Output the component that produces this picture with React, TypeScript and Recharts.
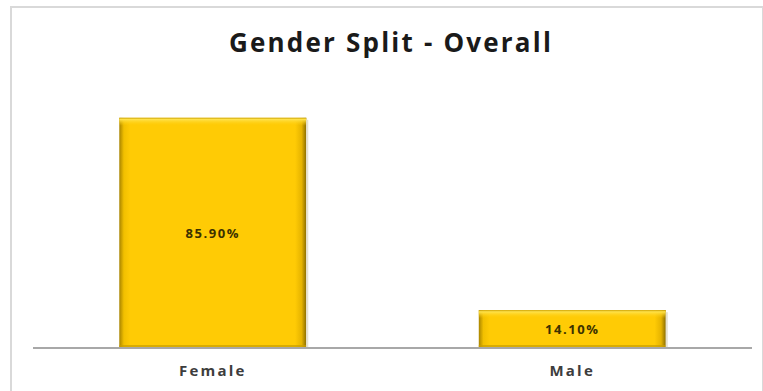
import React from 'react';
import { BarChart, Bar, XAxis, YAxis, LabelList } from 'recharts';

const categories = ['Female', 'Male'];
const shares = [85.9, 14.1];
const chartTitle = 'Gender Split - Overall';

const chartData = categories.map((name, i) => ({ name, share: shares[i] }));

const font = '"Open Sans", "Liberation Sans", sans-serif';

// bevelled gold bar, roughly like the Excel preset
const GoldBar = (props: any) => {
  const { x, y, width, height } = props;
  if (!height || height <= 0) return null;
  return (
    <g>
      <rect x={x} y={y} width={width} height={height} fill="url(#goldFill)" />
      <rect x={x} y={y} width={width} height={Math.min(8, height)} fill="url(#goldTop)" />
      <rect x={x} y={y + height - 3} width={width} height={3} fill="#c99e00" opacity={0.7} />
      <line x1={x + width + 1} y1={y + 2} x2={x + width + 1} y2={y + height} stroke="#e6e2cf" strokeWidth={2} />
    </g>
  );
};

const CategoryTick = (props: any) => {
  const { x, y, payload } = props;
  return (
    <text x={x} y={y + 20} textAnchor="middle" fontFamily={font} fontSize={15} fontWeight={700}
      letterSpacing={2.2} fill="#3d3d3d">
      {payload.value}
    </text>
  );
};

const App: React.FC = () => {
  return (
    <div style={{ position: 'absolute', left: 0, top: 0, width: 763, height: 391, background: '#fff' }}>
      <div style={{
        position: 'absolute', left: 10, top: 6, width: 754, height: 392,
        border: '2px solid #d9d9d9', boxSizing: 'border-box',
      }} />
      <div style={{
        position: 'absolute', left: 0, top: 29, width: 782, textAlign: 'center',
        fontFamily: font, fontSize: 26, fontWeight: 700, lineHeight: '26px', color: '#1a1a1a',
        letterSpacing: 2.2,
      }}>
        {chartTitle}
      </div>
      <div style={{ position: 'absolute', left: 0, top: 0 }}>
        <BarChart width={763} height={391} data={chartData}
          margin={{ top: 80, right: 11, left: 33, bottom: 13 }} barCategoryGap="24%">
          <defs>
            <linearGradient id="goldFill" x1="0" y1="0" x2="1" y2="0">
              <stop offset="0%" stopColor="#a88400" />
              <stop offset="2.5%" stopColor="#f2c000" />
              <stop offset="6%" stopColor="#ffcb05" />
              <stop offset="94%" stopColor="#ffcb05" />
              <stop offset="97.5%" stopColor="#e6b400" />
              <stop offset="100%" stopColor="#8c6e00" />
            </linearGradient>
            <linearGradient id="goldTop" x1="0" y1="0" x2="0" y2="1">
              <stop offset="0%" stopColor="#c9a000" />
              <stop offset="20%" stopColor="#ffe24a" />
              <stop offset="100%" stopColor="#ffcb05" stopOpacity={0} />
            </linearGradient>
          </defs>
          <XAxis dataKey="name" height={30} tickLine={false} interval={0}
            axisLine={{ stroke: '#a8a8a8', strokeWidth: 2 }} tick={<CategoryTick />} />
          <YAxis hide domain={[0, 100]} />
          <Bar dataKey="share" shape={<GoldBar />} isAnimationActive={false}>
            <LabelList dataKey="share" position="center"
              formatter={(v: any) => `${Number(v).toFixed(2)}%`}
              style={{ fontFamily: font, fontSize: 13, fontWeight: 700, fill: '#3b3100', letterSpacing: 1.6 }} />
          </Bar>
        </BarChart>
      </div>
    </div>
  );
};

export default App;
